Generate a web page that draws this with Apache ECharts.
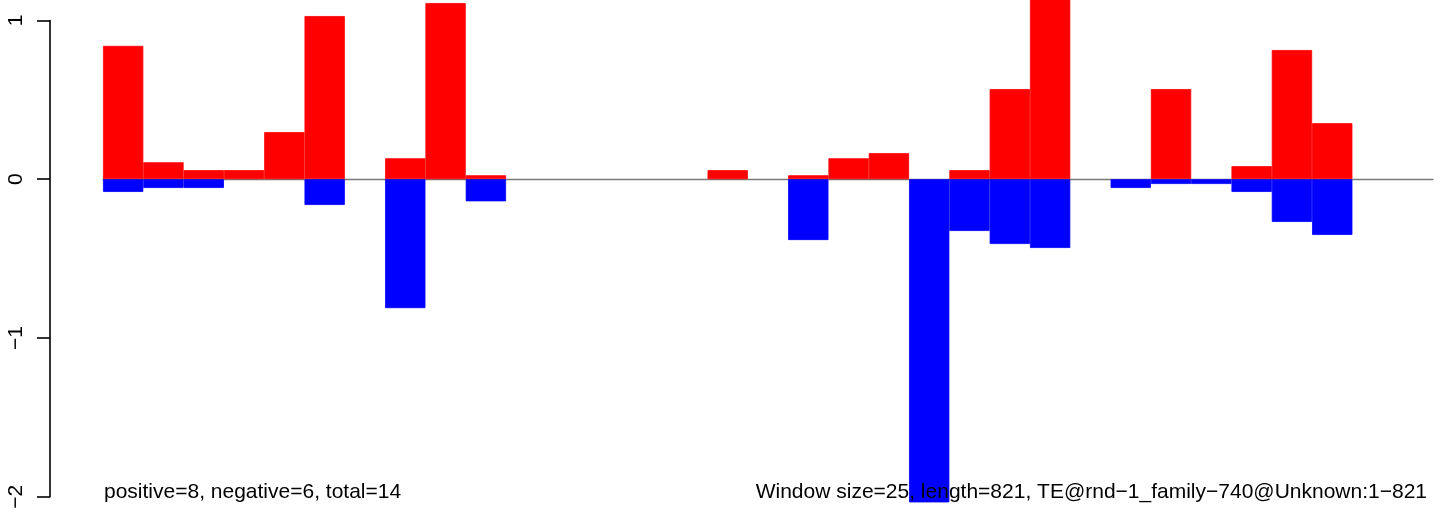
<!DOCTYPE html>
<html>
<head>
<meta charset="utf-8">
<script src="https://cdn.jsdelivr.net/npm/echarts@6/dist/echarts.min.js"></script>
<style>
html,body{margin:0;padding:0;background:#fff;}
#chart{width:1444px;height:513px;}
</style>
</head>
<body>
<div id="chart"></div>
<script>
// window index (33 windows of size 25 over length 821)
const windows = Array.from({length: 33}, (_, i) => String(i + 1));
// positive scores per window
const positiveValues = [0.84, 0.107, 0.057, 0.057, 0.297, 1.028, 0, 0.132, 1.11, 0.025,
  0, 0, 0, 0, 0, 0.057, 0, 0.025, 0.132, 0.164,
  0, 0.057, 0.568, 1.2, 0, 0, 0.568, 0, 0.082, 0.814,
  0.353, 0, 0];
// negative scores per window
const negativeValues = [-0.08, -0.055, -0.055, 0, 0, -0.162, 0, -0.812, 0, -0.139,
  0, 0, 0, 0, 0, 0, 0, -0.383, 0, 0,
  -2.036, -0.326, -0.408, -0.433, 0, -0.055, -0.03, -0.03, -0.08, -0.269,
  -0.351, 0, 0];
const yTicks = [-2, -1, 0, 1];
const leftNote = 'positive=8, negative=6, total=14';
const rightNote = 'Window size=25, length=821, TE@rnd\u22121_family\u2212740@Unknown:1\u2212821';

// windows with a zero score draw no bar
const asBars = arr => arr.map(v => (v === 0 ? null : v));

const chart = echarts.init(document.getElementById('chart'), null, {renderer: 'canvas'});
const FONT = '"Liberation Sans", Arial, Helvetica, sans-serif';
chart.setOption({
  animation: false,
  backgroundColor: '#ffffff',
  grid: {left: 103, right: 11, top: 20.5, bottom: 16.3, containLabel: false},
  xAxis: {
    type: 'category',
    data: windows,
    boundaryGap: true,
    axisLine: {show: true, onZero: true, lineStyle: {color: '#7a7a7a', width: 1.3}},
    axisTick: {show: false},
    axisLabel: {show: false},
    splitLine: {show: false}
  },
  yAxis: {
    type: 'value',
    min: yTicks[0],
    max: yTicks[yTicks.length - 1],
    interval: 1,
    offset: 53,
    axisLine: {show: true, lineStyle: {color: '#000', width: 1.6}},
    axisTick: {show: true, length: 13, inside: false, lineStyle: {color: '#000', width: 1.6}},
    splitLine: {show: false},
    axisLabel: {
      show: true, rotate: 90, margin: 23,
      fontFamily: FONT, fontSize: 21, color: '#000',
      formatter: v => (v < 0 ? '\u2212' + Math.abs(v) : String(v))
    }
  },
  series: [
    {
      type: 'bar', name: 'positive', data: asBars(positiveValues),
      barCategoryGap: '0%', barGap: '-100%', clip: false,
      itemStyle: {color: '#ff0000', borderColor: '#ff0000', borderWidth: 0.8}
    },
    {
      type: 'bar', name: 'negative', data: asBars(negativeValues),
      barCategoryGap: '0%', barGap: '-100%', clip: false,
      itemStyle: {color: '#0000ff', borderColor: '#0000ff', borderWidth: 0.8}
    }
  ],
  graphic: [
    {type: 'text', left: 104, top: 482, z: 100,
     style: {text: leftNote, font: '21px ' + FONT, fill: '#000'}},
    {type: 'text', right: 17, top: 482, z: 100,
     style: {text: rightNote, font: '21px ' + FONT, fill: '#000'}}
  ]
});
</script>
</body>
</html>
